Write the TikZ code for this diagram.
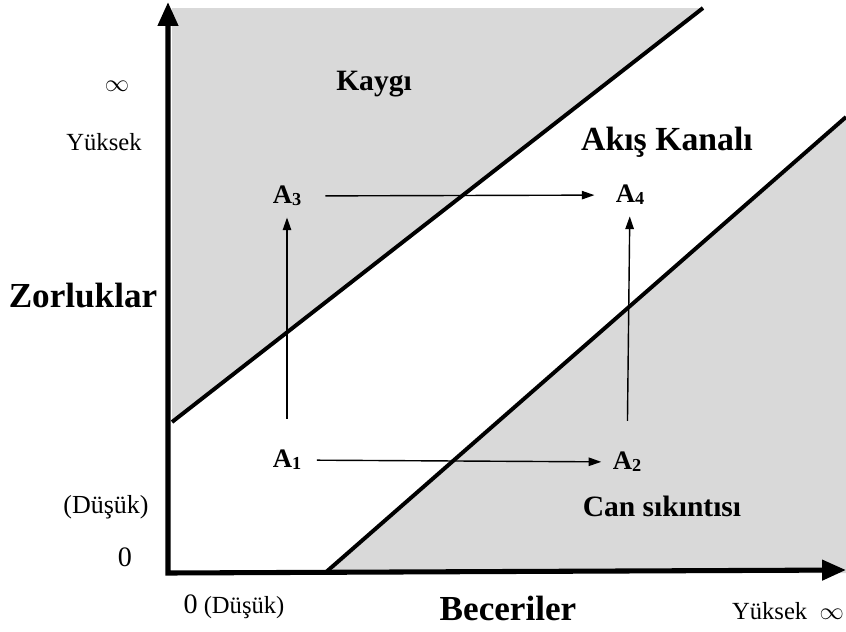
\documentclass[tikz,border=0pt]{standalone}
\usepackage{fontspec}
\setmainfont{Liberation Serif}
\usetikzlibrary{arrows.meta}
\newcommand{\idx}[1]{{\fontsize{13}{13}\selectfont\raisebox{-0.25ex}{#1}}}
\begin{document}
\begin{tikzpicture}[x=0.025cm, y=-0.025cm, every node/.style={font=\fontsize{17.5}{20}\selectfont},
  zone/.style={fill=black!15},
  axis/.style={line width=3.6pt, line join=miter, {Triangle[length=17pt,width=14pt]}-{Triangle[length=17pt,width=14pt]}},
  edge/.style={line width=2.8pt},
  flow/.style={line width=1pt, -{Triangle[length=9pt,width=6pt]}},
  title/.style={font=\fontsize{25}{28}\selectfont\bfseries},
  area/.style={font=\fontsize{21}{24}\selectfont\bfseries},
  state/.style={inner sep=0pt, font=\fontsize{19}{21}\selectfont\bfseries}]
\useasboundingbox (0,0) rectangle (846,631);
\fill[zone] (172,8) -- (703,8) -- (172,422) -- cycle;
\fill[zone] (325,573) -- (846,117) -- (846,573) -- cycle;
\coordinate (ytop) at (168,2);
\coordinate (o) at (168,573);
\coordinate (xend) at (846,570);
\coordinate (k1) at (172,422);
\coordinate (k2) at (703,8);
\coordinate (b1) at (325,573);
\coordinate (b2) at (846,117);
\draw[edge] (k1) -- (k2);
\draw[edge] (b1) -- (b2);
\draw[axis] (ytop) -- (o) -- (xend);
\node (inf) at (117,86) {$\infty$};
\node (high) at (104,142) {Yüksek};
\node[title] (zorluk) at (83,296) {Zorluklar};
\node[font=\fontsize{18.5}{21}\selectfont] (low) at (106,507) {(Düşük)};
\node[font=\fontsize{20}{23}\selectfont] (zero) at (125,557) {0};
\node (xzero) at (234,607) {{\fontsize{20}{23}\selectfont 0} (Düşük)};
\node[title] (beceri) at (508,608) {Beceriler};
\node (xhigh) at (788,611) {Yüksek\enspace$\infty$};
\node[area] (kaygi) at (374,84) {Kaygı};
\node[title, font=\fontsize{24}{27}\selectfont\bfseries] (kanal) at (667,142) {Akış Kanalı};
\node[area] (sikinti) at (662,506) {Can sıkıntısı};
\node[state] (a3) at (287,196) {A\idx{3}};
\node[state] (a4) at (630,195) {A\idx{4}};
\node[state] (a1) at (287,460) {A\idx{1}};
\node[state] (a2) at (627,462) {A\idx{2}};
\draw[flow, shorten <=17pt, shorten >=15pt] (a3) -- (a4);
\draw[flow, shorten <=11pt, shorten >=8pt] (a1) -- (a2);
\draw[flow, shorten <=22pt, shorten >=8pt] (a1) -- (a3);
\draw[flow, shorten <=22pt, shorten >=8pt] (a2) -- (a4);
\end{tikzpicture}
\end{document}
